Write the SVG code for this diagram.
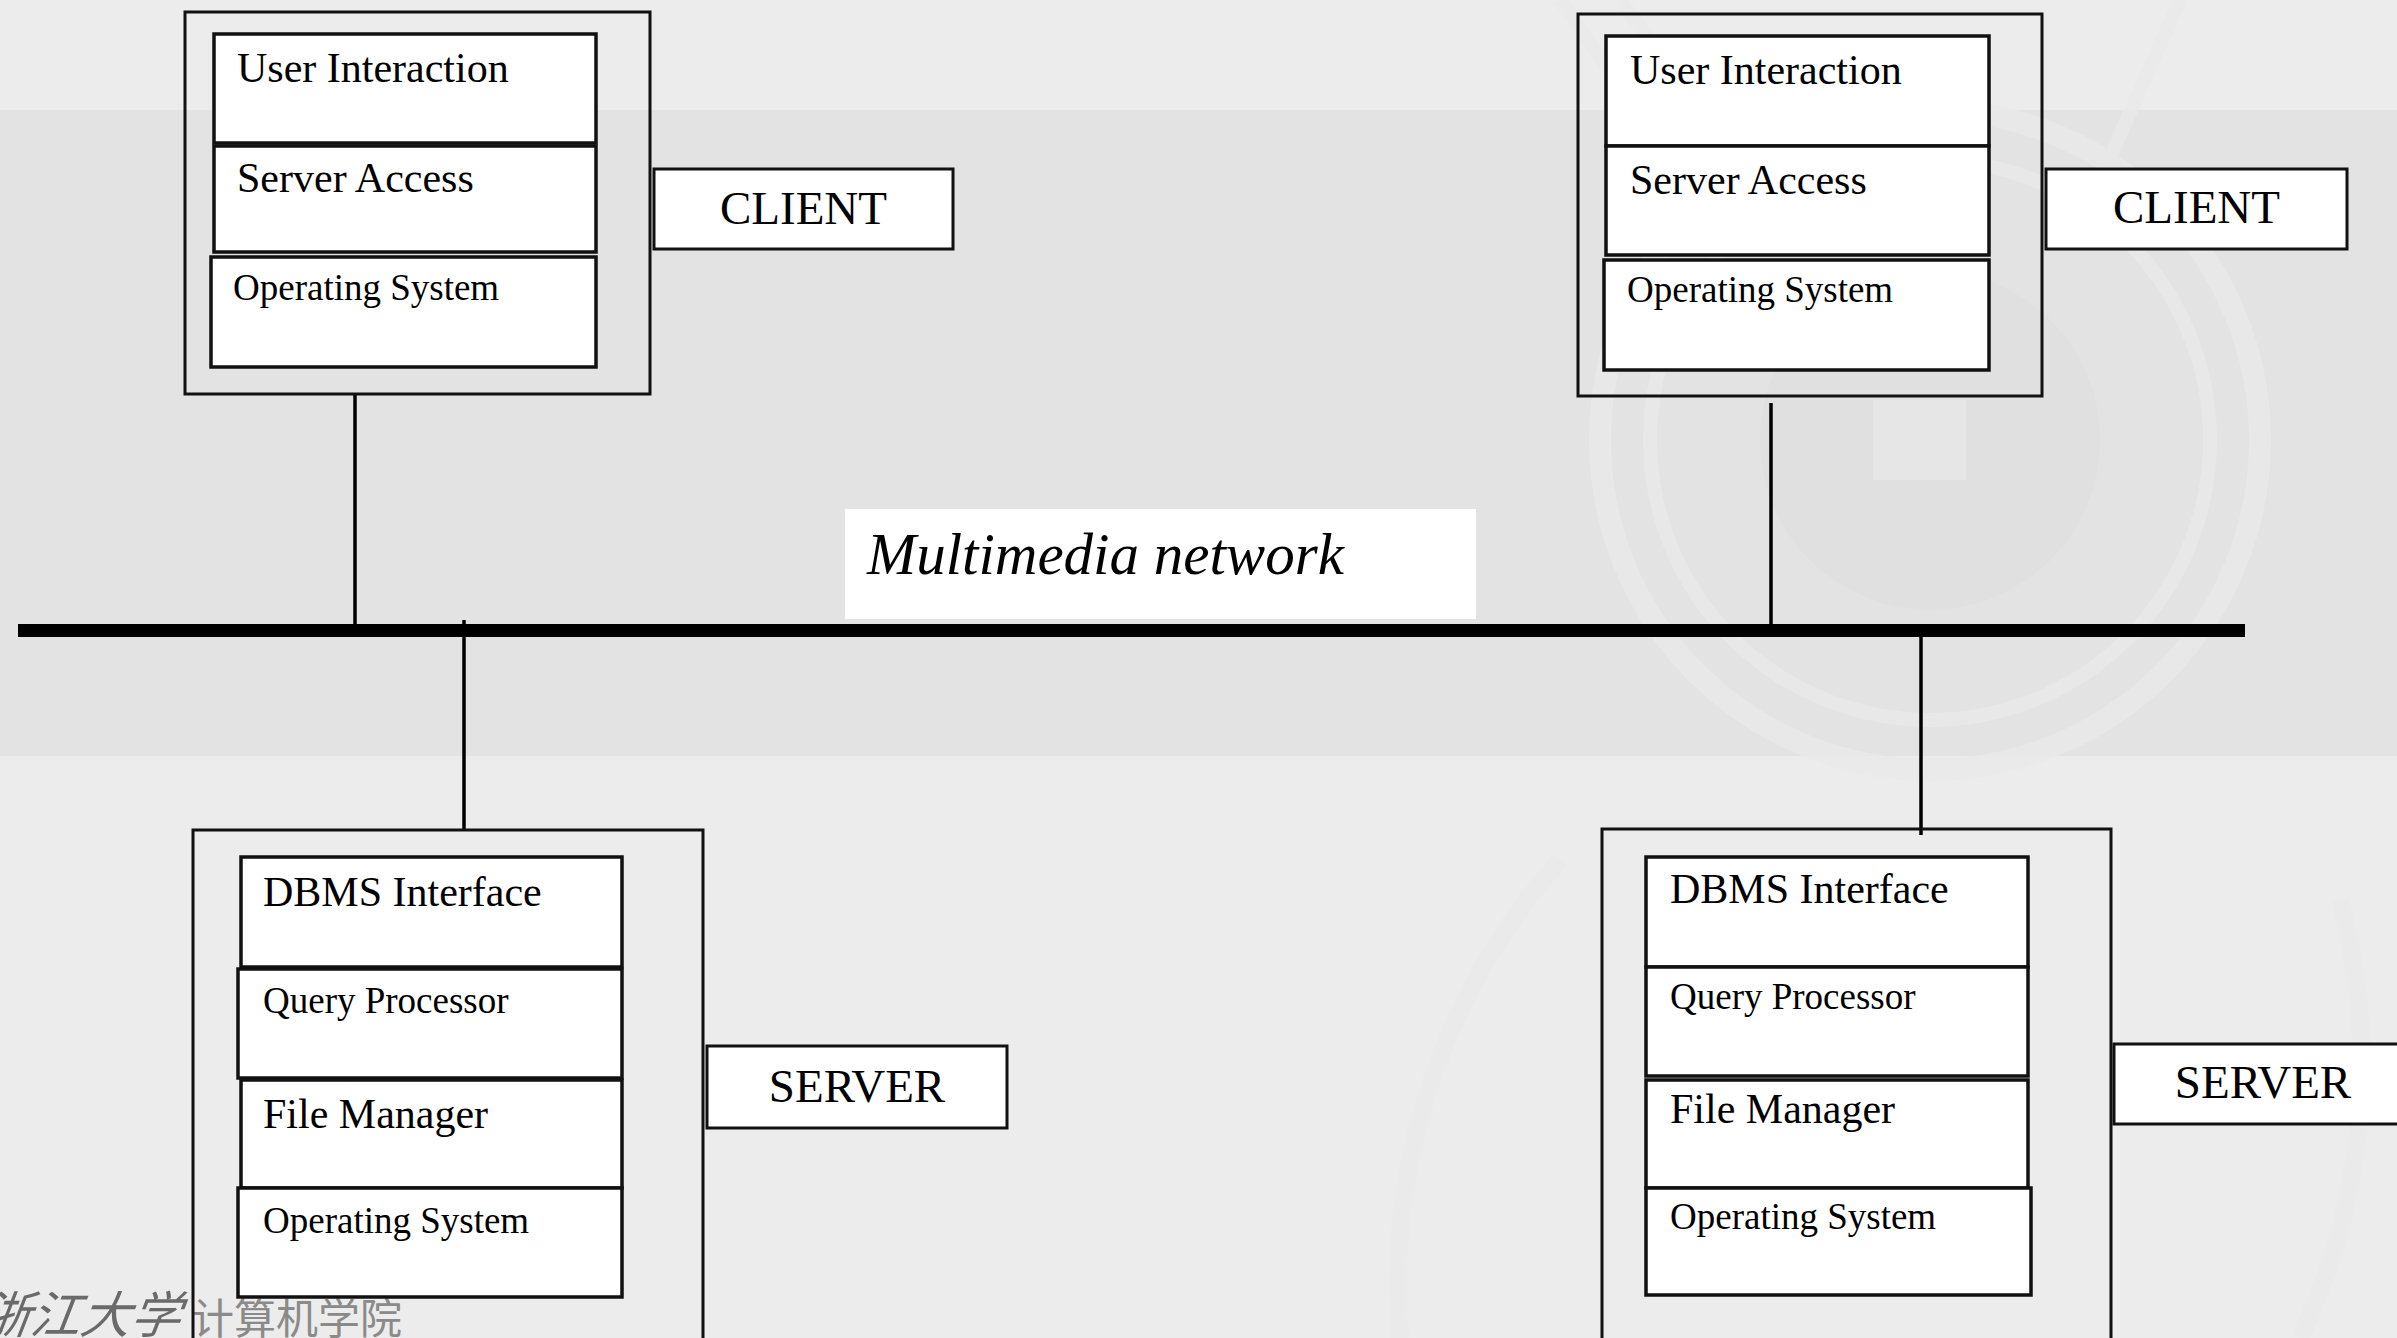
<svg xmlns="http://www.w3.org/2000/svg" width="2397" height="1338" viewBox="0 0 2397 1338">
  <style>
    .outer { fill: none; stroke: #111; stroke-width: 3; }
    .layer { fill: #fff; stroke: #111; stroke-width: 3.5; }
    .tag { fill: #fff; stroke: #111; stroke-width: 3; }
    .t { font-family: "Liberation Serif", "Times New Roman", serif; fill: #000; }
    .lg { font-size: 42px; }
    .sm { font-size: 37px; }
    .big { font-size: 47px; text-anchor: middle; }
    .wire { stroke: #000; stroke-width: 3.5; }
    .wm { fill: none; stroke: #eaeaea; }
  </style>

  <!-- slide background bands -->
  <g id="background">
    <rect x="0" y="0" width="2397" height="1338" fill="#ececec"/>
    <rect x="0" y="110" width="2397" height="646" fill="#e3e3e3"/>
  </g>

  <!-- faint emblem watermark -->
  <g id="watermark" opacity="0.75">
    <circle class="wm" cx="1930" cy="440" r="330" stroke-width="22"/>
    <circle class="wm" cx="1930" cy="440" r="280" stroke-width="14"/>
    <circle cx="1930" cy="440" r="170" fill="#e0e0e0"/>
    <rect x="1873" y="400" width="93" height="80" fill="#e8e8e8"/>
    <path class="wm" d="M1400,1338 A640,640 0 0 1 1560,860" stroke-width="18"/>
    <path class="wm" d="M2300,1338 A640,640 0 0 0 2340,900" stroke-width="18"/>
    <path class="wm" d="M1560,0 L1700,200 M1620,0 L1760,190 M2180,0 L2100,180" stroke-width="14"/>
  </g>

  <!-- institution mark, bottom left -->
  <g id="logo">
    <text x="-20" y="1333" font-family="'Noto Sans CJK SC', sans-serif" font-size="50" font-style="italic" fill="#6a6a6a" transform="skewX(-8) translate(186,0)">浙江大学</text>
    <text x="192" y="1334" font-family="'Noto Sans CJK SC', sans-serif" font-size="42" fill="#8a8a8a">计算机学院</text>
  </g>

  <!-- network bus and drop lines -->
  <g id="connectors">
    <rect x="18" y="624" width="2227" height="13" fill="#000"/>
    <line class="wire" x1="355" y1="394" x2="355" y2="626"/>
    <line class="wire" x1="1771" y1="403" x2="1771" y2="626"/>
    <line class="wire" x1="464" y1="620" x2="464" y2="831"/>
    <line class="wire" x1="1921" y1="636" x2="1921" y2="835"/>
  </g>

  <g id="network-label">
    <rect x="845" y="509" width="631" height="110" fill="#fff"/>
    <text class="t" x="867" y="574" font-size="59" font-style="italic">Multimedia network</text>
  </g>

  <g id="client-1">
    <rect class="outer" x="185" y="12" width="465" height="382"/>
    <rect class="layer" x="214" y="34" width="382" height="109"/>
    <text class="t lg" x="237" y="82">User Interaction</text>
    <rect class="layer" x="214" y="146" width="382" height="106"/>
    <text class="t lg" x="237" y="192">Server Access</text>
    <rect class="layer" x="211" y="257" width="385" height="110"/>
    <text class="t sm" x="233" y="300">Operating System</text>
    <rect class="tag" x="654" y="169" width="299" height="80"/>
    <text class="t big" x="803.5" y="224">CLIENT</text>
  </g>

  <g id="client-2">
    <rect class="outer" x="1578" y="14" width="464" height="382"/>
    <rect class="layer" x="1606" y="36" width="383" height="110"/>
    <text class="t lg" x="1630" y="84">User Interaction</text>
    <rect class="layer" x="1606" y="146" width="383" height="109"/>
    <text class="t lg" x="1630" y="194">Server Access</text>
    <rect class="layer" x="1604" y="260" width="385" height="110"/>
    <text class="t sm" x="1627" y="302">Operating System</text>
    <rect class="tag" x="2046" y="169" width="301" height="80"/>
    <text class="t big" x="2196.5" y="223">CLIENT</text>
  </g>

  <g id="server-1">
    <rect class="outer" x="193" y="830" width="510" height="540"/>
    <rect class="layer" x="241" y="857" width="381" height="110"/>
    <text class="t lg" x="263" y="906">DBMS Interface</text>
    <rect class="layer" x="238" y="969" width="384" height="109"/>
    <text class="t sm" x="263" y="1013">Query Processor</text>
    <rect class="layer" x="241" y="1080" width="381" height="108"/>
    <text class="t lg" x="263" y="1128">File Manager</text>
    <rect class="layer" x="238" y="1188" width="384" height="109"/>
    <text class="t sm" x="263" y="1233">Operating System</text>
    <rect class="tag" x="707" y="1046" width="300" height="82"/>
    <text class="t big" x="857" y="1102">SERVER</text>
  </g>

  <g id="server-2">
    <rect class="outer" x="1602" y="829" width="509" height="540"/>
    <rect class="layer" x="1646" y="857" width="382" height="110"/>
    <text class="t lg" x="1670" y="903">DBMS Interface</text>
    <rect class="layer" x="1646" y="967" width="382" height="109"/>
    <text class="t sm" x="1670" y="1009">Query Processor</text>
    <rect class="layer" x="1646" y="1080" width="382" height="108"/>
    <text class="t lg" x="1670" y="1123">File Manager</text>
    <rect class="layer" x="1646" y="1188" width="385" height="107"/>
    <text class="t sm" x="1670" y="1229">Operating System</text>
    <rect class="tag" x="2114" y="1044" width="300" height="80"/>
    <text class="t big" x="2263" y="1098">SERVER</text>
  </g>
</svg>
